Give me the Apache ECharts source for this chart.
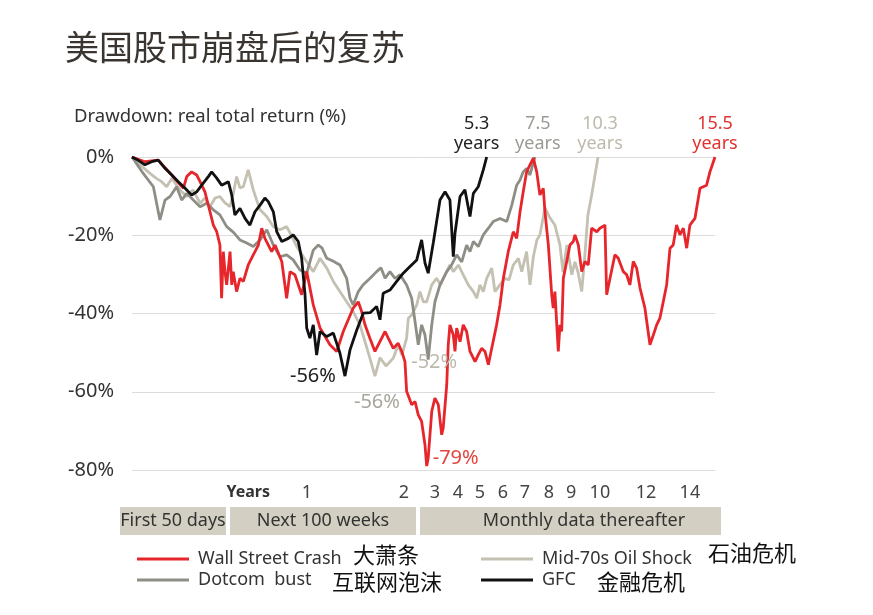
<!DOCTYPE html>
<html>
<head>
<meta charset="utf-8">
<script src="https://cdn.jsdelivr.net/npm/echarts@6/dist/echarts.min.js"></script>
<style>
  html, body { margin: 0; padding: 0; background: #fff; }
  #main { width: 873px; height: 615px; }
</style>
</head>
<body>
<div id="main"></div>
<script>
// 横轴单位：样本序号（前50个为日、接下来100个为周、之后为月）
const yearTickPos = [62, 93.3, 145.1, 161.6, 173.9, 185.6, 197.9, 209.6, 222.4, 234.2, 249.6, 274.2, 297.6];
const yearTickLabels = ['Years', '1', '2', '3', '4', '5', '6', '7', '8', '9', '10', '12', '14'];
const yTicks = [0, -20, -40, -60, -80];

// [样本序号, 回撤 %]
const wallStreet = [
  [0,0],[6.9,-1.2],[14,-0.8],[21.2,-4.6],[27.4,-8],[29.2,-5],[31.8,-3.8],[34.5,-4.6],[36.3,-6.3],[38.9,-8.9],
  [41.6,-14],[43.4,-17.4],[45.2,-19.1],[46.9,-22.5],[47.8,-36.1],[48.7,-24.2],[49.6,-29.3],[50.5,-32.7],[52.3,-24.2],[53.2,-32.7],
  [54,-29.3],[55.8,-34.4],[57.6,-31],[59.4,-31.8],[62,-27.6],[64.7,-25],[67.4,-22.5],[69.2,-18.2],[70.9,-20.8],[74.5,-24.2],
  [76.3,-22.5],[79.9,-26.7],[82.5,-36.1],[84.3,-29.3],[86.9,-30.1],[90.5,-35.2],[93.2,-29.3],[96.7,-37.8],[100.3,-43.7],[105.6,-48],
  [109.2,-49.7],[112.7,-44.6],[118,-38.6],[120.7,-37],[122.5,-39.5],[124.3,-42.9],[126.9,-46.3],[129.6,-49.7],[135,-44.6],[136.7,-46.3],
  [139.4,-48.9],[142,-47.6],[143.9,-49.7],[145.6,-52.3],[146.5,-59.9],[149.2,-63.3],[151,-62.5],[152.7,-65.9],[154.5,-67.6],[156.3,-73.6],
  [157.2,-79],[158,-77],[159.9,-65],[161.6,-61.6],[163.4,-63.3],[165.2,-71],[166,-69.3],[167.9,-58.2],[168.7,-48],[169.6,-42.9],
  [171.4,-45.5],[172.3,-49.7],[173.2,-43.7],[175,-47.2],[176.7,-42.9],[178.5,-44.6],[180.3,-49.7],[183,-52.3],[184.7,-50.6],[186.5,-48.9],
  [188.3,-49.7],[190.1,-53.1],[191.9,-48.9],[194.5,-42.9],[196.3,-37.8],[198.1,-31],[200.7,-24.2],[203.4,-19.1],[205.2,-20.8],[207,-14],
  [208.7,-8.9],[210.5,-3.8],[212.3,-2],[214.1,-0.3],[215.9,-3.8],[217.6,-9.7],[219.4,-8],[220.3,-14],[222.1,-22.5],[223.9,-35.2],
  [224.7,-38.6],[225.6,-34.4],[227.4,-49.7],[228.3,-42.9],[229.2,-44.6],[230.1,-31],[231.9,-26.7],[233.6,-22.5],[235.4,-21.6],[236.3,-19.9],
  [238.1,-22.5],[239.9,-29.3],[241.6,-26.7],[243.4,-27.6],[245.2,-18.2],[247.9,-19.1],[249.6,-18.2],[252.3,-17.4],[253.2,-35.2],[255,-31],
  [257.6,-25],[259.4,-25.9],[262.1,-29.3],[263.9,-30.1],[265.6,-32.7],[267.4,-26.7],[269.2,-28.4],[271,-33.5],[273.6,-38.6],[276.3,-48],
  [278.1,-45.5],[279.9,-42.9],[281.6,-41.2],[283.4,-37],[285.2,-32.7],[287,-23.3],[288.7,-22.5],[290.5,-17.4],[292.3,-19.9],[294.1,-18.2],
  [295.9,-23.3],[297.6,-17.4],[300.3,-15.7],[301.2,-13.1],[303,-8],[306.5,-7.2],[308.3,-3.8],[311,0]
];
const dotcom = [
  [0,0],[6,-4.2],[11.4,-7.6],[14.9,-16.1],[17.6,-11],[20.3,-10.1],[23.8,-7.6],[26.5,-11],[29.2,-9.3],[32.7,-11],
  [36.3,-12.7],[39.8,-11.8],[43.4,-13.5],[46.9,-14.8],[50.5,-17.8],[54,-19.2],[57.6,-21.2],[61.2,-22],[64.7,-22.9],[68.3,-21.2],
  [71.9,-18.6],[75.4,-22.5],[78.9,-25.5],[82.5,-25],[86,-26.3],[89.6,-28.9],[93.2,-29.7],[96.7,-23.8],[99.4,-22.5],[101.3,-23.2],
  [103.9,-25.9],[107.2,-26.6],[110.9,-27.6],[114.5,-31],[116.3,-36.1],[118,-37.8],[120.7,-34.4],[123.2,-32.7],[127,-31],[130.5,-29.3],
  [132.8,-28.3],[135,-31],[137.6,-29.3],[140.3,-31],[143,-30.1],[146.5,-32.7],[149.2,-36.1],[151,-42.1],[152.7,-48],[154.5,-42.9],
  [156.3,-45.5],[158,-51.8],[159.9,-42.9],[161.6,-37],[164.3,-32.7],[167.9,-29.3],[170.5,-27.6],[173.2,-25],[175.9,-26.8],[178.5,-22.5],
  [180.3,-24.2],[182.1,-21.6],[184.7,-22.9],[187.4,-19.9],[190.1,-18.2],[192.7,-16.5],[196.3,-15.7],[199.9,-16.5],[202.6,-12.3],[205.2,-7.2],
  [207,-5.9],[208.7,-3.8],[210.5,-2.9],[212.3,-4.6],[214.9,0]
];
const oilShock = [
  [0,0],[4.3,-2],[9.6,-4.2],[12.8,-5.4],[15.8,-6.3],[18.5,-7.6],[21.3,-5.4],[24,-7.4],[26.5,-8.9],[29.2,-10.1],
  [32.5,-8.4],[36.3,-11.8],[38.9,-10.5],[41.6,-12.7],[44.3,-10.5],[46.9,-10.1],[49.6,-11.7],[52.3,-12.7],[53.9,-9.7],[55.8,-5],
  [57.6,-7.9],[59.4,-7.6],[62,-3.3],[64.7,-8.4],[66.5,-11],[68.3,-13.5],[71.9,-15.2],[75.4,-17.8],[78.9,-18.6],[82.5,-17.8],
  [85.2,-20.2],[87.9,-22.9],[91.4,-25.5],[93.9,-27.3],[96.7,-29.3],[100.3,-25.9],[103.9,-28.4],[107.4,-31.8],[110.9,-34.4],[114.5,-37],
  [118,-39.5],[121.6,-42.9],[124.3,-47.2],[126.9,-51.4],[129.6,-56],[132.3,-51.3],[135.5,-53.4],[139.4,-51.4],[142,-48],[144,-50.6],
  [146.5,-46.3],[147.4,-41.2],[149.2,-40.4],[151.9,-37.8],[153.6,-34.4],[155.4,-37],[157.2,-37],[159.9,-32.7],[162.5,-31],[164.6,-32.7],
  [167,-30.1],[169.6,-27.6],[171.4,-29.3],[174.1,-27.6],[176.7,-30.1],[179.4,-32.7],[182.1,-34.4],[183.9,-36.1],[185.6,-32.7],[187.4,-34.4],
  [189.2,-31],[191.9,-28.4],[193.6,-34.4],[196.3,-32.7],[199,-31],[201.1,-31.4],[203.4,-27.6],[206.1,-25.9],[207.9,-29.3],[210.5,-24.2],
  [212.3,-32.7],[214.1,-25.5],[216,-21.2],[217.6,-19.9],[220.3,-13],[223,-15.6],[225.6,-17.4],[228.3,-22.5],[229.9,-29.4],[232,-22.5],
  [234.6,-30.1],[236.3,-26.8],[237.9,-29.4],[239.9,-34.4],[241.6,-25],[243.2,-14.8],[245.2,-9.7],[247,-4.6],[248.6,0]
];
const gfc = [
  [0,0],[3.2,-0.8],[6.9,-2],[10.5,-1.2],[14,-0.8],[17.6,-2.9],[21.2,-4.6],[24.7,-6.3],[28.3,-8],[31.8,-9.7],
  [34.5,-8.9],[37.2,-7.2],[40.7,-5],[42.5,-3.8],[45.2,-5.4],[47.8,-7.2],[51.4,-6.3],[53.2,-9.7],[54.9,-14.8],[57.6,-13.1],
  [60.3,-15.7],[62.9,-17.4],[65.6,-14],[68.3,-12.3],[70.9,-10.5],[72.7,-11.4],[75.4,-14],[77.2,-19.1],[79.9,-21.6],[83.4,-20.8],
  [86,-19.9],[88.7,-21.6],[90.5,-25.9],[92.3,-35.2],[93.2,-43.7],[94.9,-46.3],[96.7,-42.9],[98.5,-50.6],[100.3,-44.6],[103.9,-45.9],
  [107.4,-45],[110.9,-50.1],[113.6,-56],[116.3,-49.3],[119.9,-44.2],[123.4,-39.9],[127,-39.8],[130.5,-38.2],[132.3,-41.6],[134,-34.8],
  [137.6,-34],[141.2,-31.8],[144.7,-29.7],[148.3,-28],[151.9,-26.3],[154.5,-21.2],[156.3,-27.1],[158,-29.7],[160.7,-22],[164.3,-11],
  [167,-8.9],[169.6,-11],[171.4,-25.5],[172.3,-19.5],[175,-10.1],[177.6,-8.4],[180.3,-15.2],[182.1,-9.3],[184.7,-7.6],[187.4,-3.3],
  [189.2,0]
];

const FONT = '"Noto Sans", sans-serif';
const CJK = '"Noto Sans CJK SC", sans-serif';

const chart = echarts.init(document.getElementById('main'));

function mp(items) {
    return {
        symbol: 'circle', symbolSize: 0, silent: true,
        label: { show: true, position: 'inside', fontSize: 18, fontFamily: FONT, lineHeight: 20 },
        data: items
    };
}

function lineSeries(name, data, color, width, marks) {
    return {
        name, type: 'line', data, symbol: 'none', showSymbol: false,
        lineStyle: { color, width }, itemStyle: { color },
        emphasis: { disabled: true }, markPoint: mp(marks), z: 2
    };
}

const legendBase = {
    orient: 'vertical', icon: 'rect', itemWidth: 52, itemHeight: 3, itemGap: 3,
    textStyle: { fontSize: 18, color: '#333', fontFamily: FONT, padding: [0, 0, 0, 4] }
};

const option = {
    animation: false,
    textStyle: { fontFamily: FONT },
    grid: { left: 132, right: 158, top: 157, bottom: 145 },
    title: [
        { text: '美国股市崩盘后的复苏', left: 60, top: 25, textStyle: { fontFamily: CJK, fontSize: 34, fontWeight: 'normal', color: '#3a3530' } },
        { text: 'Drawdown: real total return (%)', left: 69, top: 102, textStyle: { fontFamily: FONT, fontSize: 18.5, fontWeight: 'normal', color: '#333' } }
    ],
    xAxis: {
        type: 'value', min: 0, max: 311,
        axisLine: { show: false }, axisTick: { show: false }, splitLine: { show: false },
        axisLabel: {
            customValues: yearTickPos, margin: 14, fontSize: 18, color: '#444', fontFamily: FONT,
            formatter: v => {
                const k = yearTickPos.indexOf(v);
                if (k === 0) return '{b|' + yearTickLabels[0] + '}';
                return k >= 0 ? yearTickLabels[k] : '';
            },
            rich: { b: { fontWeight: 'bold', fontSize: 16, color: '#333', fontFamily: FONT } }
        }
    },
    yAxis: {
        type: 'value', min: yTicks[yTicks.length - 1], max: yTicks[0], interval: 20,
        axisLine: { show: false }, axisTick: { show: false },
        axisLabel: { formatter: '{value}%', fontSize: 20, color: '#333', margin: 18, fontFamily: FONT },
        splitLine: { lineStyle: { color: '#dcdcdc', width: 1 } }
    },
    legend: [
        Object.assign({ left: 132, top: 545, data: ['Wall Street Crash', 'Dotcom  bust'] }, legendBase),
        Object.assign({ left: 476, top: 545, data: ['Mid-70s Oil Shock', 'GFC'] }, legendBase)
    ],
    series: [
        lineSeries('Mid-70s Oil Shock', oilShock, '#c4c0b2', 2.8, [
            { coord: [129.6, -56], label: { formatter: '-56%', fontSize: 20, offset: [2, 26], color: '#a9a69d' } },
            { coord: [248.6, 0], label: { formatter: '10.3\nyears', offset: [2, -23], color: '#bdb9ac' } }
        ]),
        lineSeries('Dotcom  bust', dotcom, '#8e8e86', 2.8, [
            { coord: [158, -51.8], label: { formatter: '-52%', fontSize: 20, offset: [6, 3], color: '#bdb9ae' } },
            { coord: [214.9, 0], label: { formatter: '7.5\nyears', offset: [3, -23], color: '#9a9a94' } }
        ]),
        lineSeries('Wall Street Crash', wallStreet, '#e6262b', 2.8, [
            { coord: [157.2, -79], label: { formatter: '-79%', fontSize: 20, offset: [29, -8], color: '#e0453f' } },
            { coord: [311, 0], label: { formatter: '15.5\nyears', offset: [0, -23], color: '#e0322f' } }
        ]),
        lineSeries('GFC', gfc, '#111111', 2.8, [
            { coord: [113.6, -56], label: { formatter: '-56%', fontSize: 20, offset: [-32, 0], color: '#222' } },
            { coord: [189.2, 0], label: { formatter: '5.3\nyears', offset: [-10, -23], color: '#222' } }
        ])
    ],
    graphic: [
        { type: 'rect', shape: { x: 120, y: 507, width: 106, height: 28 }, style: { fill: '#d3d0c3' }, z: 0 },
        { type: 'rect', shape: { x: 230, y: 507, width: 186, height: 28 }, style: { fill: '#d3d0c3' }, z: 0 },
        { type: 'rect', shape: { x: 420, y: 507, width: 301, height: 28 }, style: { fill: '#d3d0c3' }, z: 0 },
        { type: 'text', x: 173, y: 521, style: { text: 'First 50 days', font: '18px ' + FONT, fill: '#333', align: 'center', verticalAlign: 'middle' } },
        { type: 'text', x: 323, y: 521, style: { text: 'Next 100 weeks', font: '18px ' + FONT, fill: '#333', align: 'center', verticalAlign: 'middle' } },
        { type: 'text', x: 584, y: 521, style: { text: 'Monthly data thereafter', font: '18px ' + FONT, fill: '#333', align: 'center', verticalAlign: 'middle' } },
        { type: 'text', x: 353, y: 555, style: { text: '大萧条', font: '22px ' + CJK, fill: '#111', verticalAlign: 'middle' } },
        { type: 'text', x: 332, y: 582, style: { text: '互联网泡沫', font: '22px ' + CJK, fill: '#111', verticalAlign: 'middle' } },
        { type: 'text', x: 708, y: 553, style: { text: '石油危机', font: '22px ' + CJK, fill: '#111', verticalAlign: 'middle' } },
        { type: 'text', x: 597, y: 582, style: { text: '金融危机', font: '22px ' + CJK, fill: '#111', verticalAlign: 'middle' } }
    ]
};

chart.setOption(option);
window.addEventListener('resize', () => chart.resize());
</script>
</body>
</html>
